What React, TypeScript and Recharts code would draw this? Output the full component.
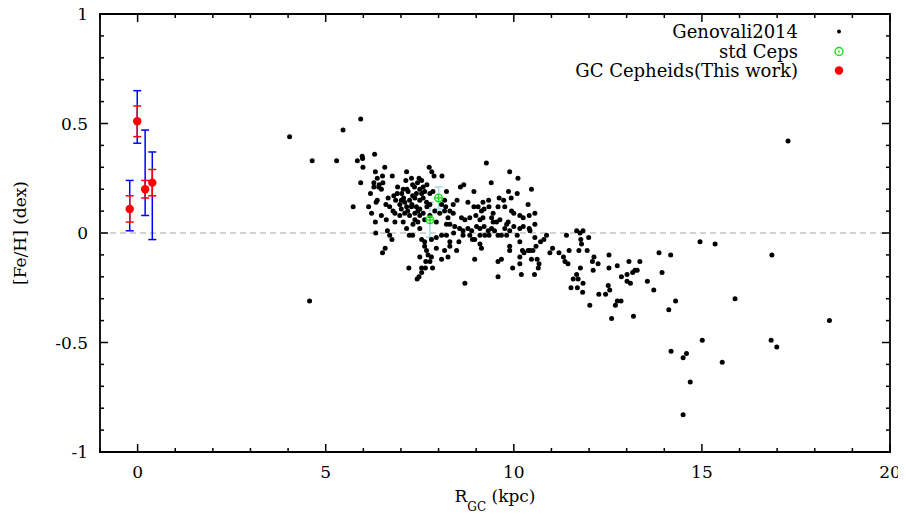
import React from "react";
import {
  ErrorBar,
  Legend,
  ReferenceArea,
  ReferenceLine,
  Scatter,
  ScatterChart,
  XAxis,
  YAxis,
} from "recharts";

const FONT = '"DejaVu Serif", serif';

// axis ticks (minor + major)
const X_TICKS = [-1, 0, 1, 2, 3, 4, 5, 6, 7, 8, 9, 10, 11, 12, 13, 14, 15, 16, 17, 18, 19, 20];
const X_MAJOR = [0, 5, 10, 15, 20];
const Y_TICKS = [-1, -0.9, -0.8, -0.7, -0.6, -0.5, -0.4, -0.3, -0.2, -0.1, 0, 0.1, 0.2, 0.3, 0.4, 0.5, 0.6, 0.7, 0.8, 0.9, 1];
const Y_MAJOR = [-1, -0.5, 0, 0.5, 1];

// Genovali2014: [R_GC (kpc), [Fe/H]]
const GENOVALI: [number, number][] = [
  [4.04, 0.44], [4.57, -0.31], [4.64, 0.33], [5.29, 0.33], [5.46, 0.47], [5.73, 0.12], [5.84, 0.33],
  [5.93, 0.52], [5.93, 0.23], [5.97, 0.35], [5.98, 0.34], [5.99, 0.3], [6.14, 0.12],
  [6.28, 0.23], [6.28, 0.21], [6.3, 0.36], [6.32, 0.28], [6.37, 0.25], [6.41, 0.21], [6.19, 0.18],
  [6.34, 0.14], [6.37, 0.15], [6.32, 0.05], [6.33, 0.0], [6.22, 0.09],
  [6.64, 0.01], [6.7, -0.01], [6.76, -0.03], [6.58, -0.07], [6.51, -0.09],
  [6.57, 0.3], [6.51, 0.26], [6.77, 0.26], [7.15, 0.28], [7.75, 0.3], [7.82, 0.28], [7.88, 0.26], [8.09, 0.26],
  [6.42, 0.22], [6.52, 0.23], [7.13, 0.24], [7.28, 0.25], [7.48, 0.25], [7.55, 0.24], [7.31, 0.22], [7.44, 0.23],
  [6.48, 0.2], [7.06, 0.2], [7.16, 0.2], [7.36, 0.21], [7.5, 0.2], [7.59, 0.21], [7.69, 0.22],
  [6.9, 0.18], [7.02, 0.18], [7.19, 0.19], [7.41, 0.18], [7.55, 0.18], [7.63, 0.19], [7.77, 0.18], [7.85, 0.19], [8.21, 0.19],
  [6.66, 0.16], [6.86, 0.15], [7.01, 0.15], [7.1, 0.14], [7.23, 0.15], [7.37, 0.16], [7.5, 0.15], [7.59, 0.16],
  [7.68, 0.14], [8.16, 0.15], [8.08, 0.13],
  [6.7, 0.12], [6.79, 0.1], [7.01, 0.11], [7.15, 0.12], [7.28, 0.12], [7.41, 0.12], [7.5, 0.11],
  [6.48, 0.08], [6.61, 0.06], [6.97, 0.08], [7.1, 0.09], [7.23, 0.08], [7.37, 0.09], [7.5, 0.08], [7.59, 0.09],
  [7.9, 0.1], [8.03, 0.09], [8.16, 0.1], [8.25, 0.07],
  [6.84, 0.05], [7.06, 0.05], [7.32, 0.04], [7.45, 0.05], [7.94, 0.05], [8.21, 0.04], [7.15, 0.02], [7.5, 0.02],
  [7.22, -0.01], [7.31, -0.01], [7.55, -0.03], [7.63, -0.04], [7.81, -0.03], [7.94, -0.02], [8.08, -0.01], [8.21, -0.01],
  [7.63, -0.06], [7.68, -0.08], [7.94, -0.07], [8.16, -0.08], [8.3, -0.06],
  [7.72, -0.1], [7.81, -0.11], [7.5, -0.11], [8.08, -0.12], [7.66, -0.13], [7.77, -0.13],
  [7.21, -0.16], [7.55, -0.16], [7.84, -0.16], [7.48, -0.2], [7.55, -0.18], [7.65, -0.16], [7.43, -0.21], [8.7, -0.23],
  [6.91, 0.21], [7.07, 0.16], [7.29, 0.13], [7.45, 0.1], [7.69, 0.12], [6.84, 0.09], [7.18, 0.1], [7.37, 0.06],
  [7.63, 0.06], [7.77, 0.13], [6.97, 0.13], [6.81, 0.17], [6.6, 0.13], [7.31, 0.17], [7.77, 0.08],
  [9.27, 0.32], [9.89, 0.28], [10.11, 0.25], [8.67, 0.22], [8.58, 0.21], [9.4, 0.23], [8.94, 0.19], [9.86, 0.19],
  [9.93, 0.16], [9.61, 0.16], [9.73, 0.15], [9.18, 0.14], [9.33, 0.15], [10.09, 0.18], [10.38, 0.13],
  [8.49, 0.15], [8.78, 0.14], [8.19, 0.12], [8.39, 0.13],
  [8.94, 0.12], [9.05, 0.12], [9.14, 0.1], [9.21, 0.11], [9.34, 0.12], [9.45, 0.09], [9.58, 0.12], [9.76, 0.12],
  [9.94, 0.1], [10.0, 0.09], [10.16, 0.08], [10.25, 0.07], [10.41, 0.08], [8.3, 0.1], [8.39, 0.09],
  [8.61, 0.07], [8.7, 0.06], [8.83, 0.07], [8.99, 0.08], [9.1, 0.06], [9.18, 0.07],
  [9.41, 0.07], [9.45, 0.05], [9.54, 0.05], [9.63, 0.06], [9.85, 0.05], [9.81, 0.04], [9.76, 0.02],
  [8.3, 0.04], [8.43, 0.03], [8.56, 0.02], [8.65, 0.01], [8.78, 0.02], [8.88, 0.01], [9.01, 0.03], [9.1, 0.02],
  [9.21, 0.03], [9.32, 0.01], [9.41, 0.02], [9.49, 0.01], [9.58, -0.01], [9.67, -0.01], [9.89, 0.01], [10.0, 0.03],
  [10.16, 0.02], [10.25, 0.03], [10.41, 0.02],
  [8.4, 0.0], [8.65, -0.01], [8.83, -0.01], [8.9, -0.03], [9.1, -0.01], [9.23, -0.01], [9.34, -0.01], [9.81, -0.01], [10.09, -0.01],
  [8.3, -0.04], [8.54, -0.04], [8.96, -0.03], [9.1, -0.05], [9.14, -0.07],
  [8.48, -0.08], [9.89, -0.06], [9.89, -0.08], [10.16, -0.04], [10.23, -0.08], [10.38, -0.08],
  [8.25, -0.11], [8.96, -0.12], [9.58, -0.13], [9.67, -0.12], [10.16, -0.11], [10.27, -0.09],
  [10.16, -0.14], [9.97, -0.16], [10.2, -0.19], [9.58, -0.2],
  [10.47, 0.2], [10.56, 0.09], [10.56, 0.04], [10.43, 0.01], [10.56, -0.02], [10.71, -0.04], [10.8, -0.03], [10.87, -0.01], [10.59, -0.06],
  [10.43, -0.08], [10.51, -0.08], [10.47, -0.12], [10.62, -0.12], [10.67, -0.14], [10.65, -0.16], [10.55, -0.19],
  [10.96, -0.09], [11.03, -0.07], [11.2, -0.09], [11.4, -0.01], [11.32, -0.11], [11.36, -0.13], [11.44, -0.14], [11.47, -0.08],
  [11.67, 0.01], [11.76, 0.0], [11.84, 0.01], [11.78, -0.03], [11.8, -0.05], [11.73, -0.08], [11.95, -0.08], [11.99, -0.02],
  [11.77, -0.16], [11.67, -0.19], [11.58, -0.21], [11.71, -0.21], [11.84, -0.23], [11.52, -0.25], [11.69, -0.25], [11.83, -0.27],
  [12.02, -0.33], [12.13, -0.11], [12.09, -0.13], [12.24, -0.14], [12.11, -0.17],
  [12.53, -0.1], [12.53, -0.16], [12.75, -0.15], [12.86, -0.2], [13.06, -0.13], [13.01, -0.19], [13.01, -0.22],
  [12.51, -0.24], [12.55, -0.26], [12.26, -0.28], [12.44, -0.28], [12.75, -0.31], [12.85, -0.31], [12.7, -0.33],
  [12.6, -0.39], [13.18, -0.38], [13.1, -0.23], [13.16, -0.18], [13.22, -0.17], [13.28, -0.17], [13.35, -0.13],
  [13.55, -0.22], [13.72, -0.26], [13.86, -0.09], [14.17, -0.1], [13.94, -0.18], [14.12, -0.35], [14.3, -0.31],
  [14.95, -0.04], [15.35, -0.05], [16.86, -0.1], [15.88, -0.3], [18.39, -0.4], [15.01, -0.49], [14.18, -0.54],
  [14.59, -0.55], [14.5, -0.57], [15.54, -0.59], [16.84, -0.49], [16.99, -0.52], [14.69, -0.68], [14.5, -0.83],
  [17.29, 0.42],
];

// std Ceps
const STD_R = [8.0, 7.77];
const STD_FEH = [0.16, 0.06];
const STD_ERR = [0.05, 0.08];

// GC Cepheids (this work): red = inner error, blue = total error as [down, up]
const GC_R = [-0.21, -0.01, 0.2, 0.39];
const GC_FEH = [0.11, 0.51, 0.2, 0.23];
const GC_ERR_RED = [0.06, 0.07, 0.04, 0.06];
const GC_ERR_BLUE: [number, number][] = [[0.1, 0.13], [0.1, 0.14], [0.12, 0.27], [0.26, 0.14]];

const genovaliData = GENOVALI.map(([x, y]) => ({ x, y }));
const stdData = STD_R.map((x, i) => ({ x, y: STD_FEH[i], err: STD_ERR[i] }));
const gcData = GC_R.map((x, i) => ({ x, y: GC_FEH[i], errRed: GC_ERR_RED[i], errBlue: GC_ERR_BLUE[i] }));

// layout (svg is pulled to the page origin, over the body margin)
const W = 906;
const H = 517;
const MARGIN = { top: 14, right: 16, bottom: 0, left: 0 };
const Y_AXIS_W = 100;
const X_AXIS_H = 65;
const PLOT_TOP = MARGIN.top;
const PLOT_BOTTOM = H - MARGIN.bottom - X_AXIS_H;
const PLOT_LEFT = MARGIN.left + Y_AXIS_W;
const PLOT_RIGHT = W - MARGIN.right;
const TICK_FONT = 17;

const isMajor = (list: number[], v: number) => list.some((m) => Math.abs(m - v) < 1e-9);

function XTick({ x, payload }: any) {
  const v = payload.value;
  const major = isMajor(X_MAJOR, v);
  const len = major ? 8 : 4;
  return (
    <g>
      <line x1={x} x2={x} y1={PLOT_BOTTOM} y2={PLOT_BOTTOM - len} stroke="#000" strokeWidth={1.5} />
      <line x1={x} x2={x} y1={PLOT_TOP} y2={PLOT_TOP + len} stroke="#000" strokeWidth={1.5} />
      {major && (
        <text x={x} y={PLOT_BOTTOM + 26} textAnchor="middle" fontSize={TICK_FONT} fill="#000" fontFamily={FONT}>
          {v}
        </text>
      )}
    </g>
  );
}

function YTick({ y, payload }: any) {
  const v = payload.value;
  const major = isMajor(Y_MAJOR, v);
  const len = major ? 8 : 4;
  return (
    <g>
      <line x1={PLOT_LEFT} x2={PLOT_LEFT + len} y1={y} y2={y} stroke="#000" strokeWidth={1.5} />
      <line x1={PLOT_RIGHT} x2={PLOT_RIGHT - len} y1={y} y2={y} stroke="#000" strokeWidth={1.5} />
      {major && (
        <text x={PLOT_LEFT - 12} y={y + 6} textAnchor="end" fontSize={TICK_FONT} fill="#000" fontFamily={FONT}>
          {String(v)}
        </text>
      )}
    </g>
  );
}

const renderXLabel = (props: any) => {
  const vb = props.viewBox;
  return (
    <text x={vb.x + vb.width / 2} y={vb.y + 50} textAnchor="middle" fontSize={17} fill="#000" fontFamily={FONT}>
      R<tspan fontSize={12} dy={9}>GC</tspan>
      <tspan dy={-9}> (kpc)</tspan>
    </text>
  );
};

const renderYLabel = (props: any) => {
  const vb = props.viewBox;
  const cx = 26;
  const cy = vb.y + vb.height / 2;
  return (
    <text
      x={cx}
      y={cy}
      transform={`rotate(-90 ${cx} ${cy})`}
      textAnchor="middle"
      fontSize={17}
      fill="#000"
      fontFamily={FONT}
    >
      [Fe/H] (dex)
    </text>
  );
};

const BlackDot = (p: any) => <circle cx={p.cx} cy={p.cy} r={2.5} fill="#000" />;
const RedDot = (p: any) => <circle cx={p.cx} cy={p.cy} r={4.2} fill="#ff0000" />;
const NoDot = () => <g />;
const StdMark = (p: any) => (
  <g stroke="#14e014" strokeWidth={1.4} fill="none">
    <circle cx={p.cx} cy={p.cy} r={3.8} />
    <line x1={p.cx - 3.8} x2={p.cx + 3.8} y1={p.cy} y2={p.cy} />
    <line x1={p.cx} x2={p.cx} y1={p.cy - 3.8} y2={p.cy + 3.8} />
  </g>
);

const LEGEND_ROWS = [
  { label: "Genovali2014", kind: "dot" },
  { label: "std Ceps", kind: "open" },
  { label: "GC Cepheids(This work)", kind: "red" },
];

const renderLegend = () => (
  <div style={{ fontFamily: FONT, fontSize: 18, color: "#000" }}>
    {LEGEND_ROWS.map((r) => (
      <div
        key={r.label}
        style={{ display: "flex", alignItems: "center", justifyContent: "flex-end", height: 19.5, lineHeight: "19.5px" }}
      >
        <span>{r.label}</span>
        <svg width={20} height={19} style={{ marginLeft: 31 }}>
          {r.kind === "dot" && <circle cx={10} cy={9.5} r={2} fill="#000" />}
          {r.kind === "open" && (
            <g>
              <circle cx={10} cy={9.5} r={4} fill="none" stroke="#14e014" strokeWidth={1.4} />
              <circle cx={10} cy={9.5} r={0.9} fill="#14e014" />
            </g>
          )}
          {r.kind === "red" && <circle cx={10} cy={9.5} r={4.2} fill="#ff0000" />}
        </svg>
      </div>
    ))}
  </div>
);

export default function App() {
  return (
    <div style={{ width: W, height: H, margin: "-8px 0 0 -8px", fontFamily: FONT }}>
      <ScatterChart width={W} height={H} margin={MARGIN}>
        <XAxis
          type="number"
          dataKey="x"
          domain={[-1, 20]}
          ticks={X_TICKS}
          interval={0}
          height={X_AXIS_H}
          tick={<XTick />}
          tickLine={false}
          axisLine={false}
          allowDataOverflow
          label={renderXLabel}
        />
        <YAxis
          type="number"
          dataKey="y"
          domain={[-1, 1]}
          ticks={Y_TICKS}
          interval={0}
          width={Y_AXIS_W}
          tick={<YTick />}
          tickLine={false}
          axisLine={false}
          allowDataOverflow
          label={renderYLabel}
        />
        <ReferenceLine y={0} stroke="#c4c4c4" strokeWidth={1.3} strokeDasharray="6 4" />
        <ReferenceArea x1={-1} x2={20} y1={-1} y2={1} fill="none" stroke="#000" strokeWidth={1.8} ifOverflow="visible" />
        <Legend
          layout="horizontal"
          verticalAlign="middle"
          align="center"
          content={renderLegend}
          wrapperStyle={{ top: 22, right: 57, left: "auto", width: "auto", height: "auto" }}
        />
        <Scatter name="Genovali2014" data={genovaliData} shape={BlackDot} isAnimationActive={false} />
        <Scatter name="std Ceps" data={stdData} shape={StdMark} isAnimationActive={false}>
          <ErrorBar dataKey="err" direction="y" width={4} stroke="#a8d8e8" strokeWidth={1.5} />
        </Scatter>
        <Scatter name="GC total" data={gcData} shape={NoDot} isAnimationActive={false} legendType="none">
          <ErrorBar dataKey="errBlue" direction="y" width={4} stroke="#0000ff" strokeWidth={1.5} />
        </Scatter>
        <Scatter name="GC Cepheids(This work)" data={gcData} shape={RedDot} isAnimationActive={false}>
          <ErrorBar dataKey="errRed" direction="y" width={4} stroke="#ff0000" strokeWidth={1.5} />
        </Scatter>
      </ScatterChart>
    </div>
  );
}
